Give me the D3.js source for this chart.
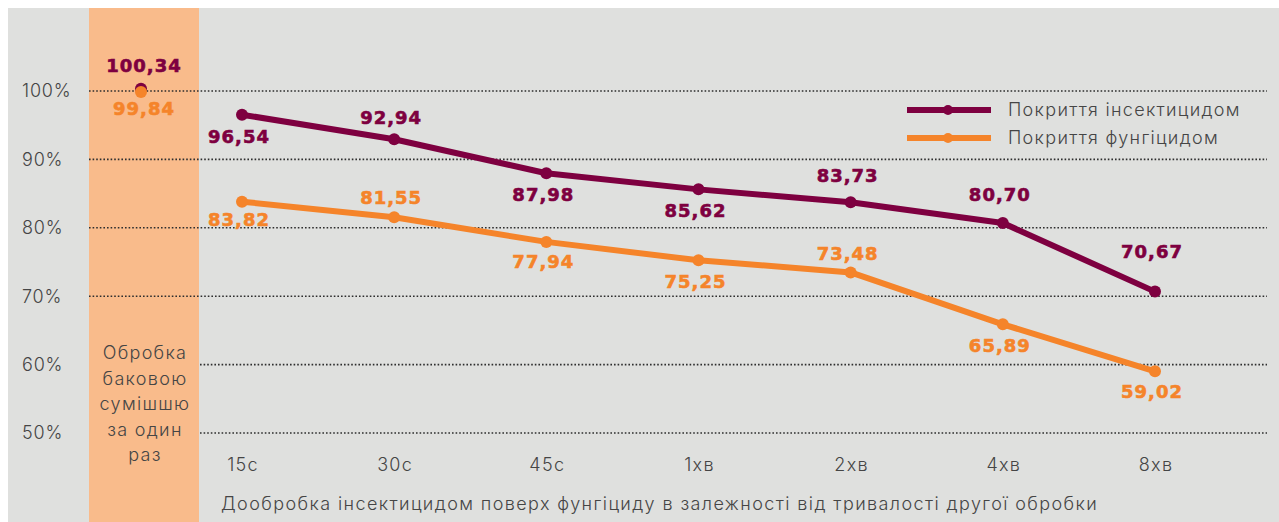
<!DOCTYPE html>
<html>
<head>
<meta charset="utf-8">
<script src="https://cdn.jsdelivr.net/npm/d3@7"></script>
<style>
  html, body { margin: 0; padding: 0; background: #ffffff; }
  svg { display: block; }
</style>
</head>
<body>
<svg id="chart" width="1279" height="522"></svg>
<script>
// Time of the second treatment
const categories = ["15с", "30с", "45с", "1хв", "2хв", "4хв", "8хв"];
// Coverage, %
const insecticide = [96.54, 92.94, 87.98, 85.62, 83.73, 80.70, 70.67];
const fungicide   = [83.82, 81.55, 77.94, 75.25, 73.48, 65.89, 59.02];
// Single pass with the tank mix
const tankMixInsecticide = 100.34;
const tankMixFungicide = 99.84;
const yTicks = [50, 60, 70, 80, 90, 100];
const seriesNames = ["Покриття інсектицидом", "Покриття фунгіцидом"];
const bandText = ["Обробка", "баковою", "сумішшю", "за один", "раз"];
const axisTitle = "Дообробка інсектицидом поверх фунгіциду в залежності від тривалості другої обробки";

const W = 1279, H = 522;
const PURPLE = "#7e0040", ORANGE = "#f5842a";
const BG = "#dfe0de", BAND = "#f9bb8b";
const TEXT = "#454545";
const FONT = "Inter, 'Open Sans', sans-serif";
const BOLD_FONT = "'DejaVu Sans', Inter, sans-serif";

const svg = d3.select("#chart");

// Light text helper
function light(sel, size) {
  return sel.attr("font-family", FONT).attr("font-weight", 300)
    .attr("font-size", size || 18).attr("letter-spacing", 1.3).attr("fill", TEXT);
}

// Panel background
svg.append("rect").attr("x", 8).attr("y", 8).attr("width", W - 8).attr("height", H - 8).attr("fill", BG);

// Tank-mix column
const band = { x0: 89, x1: 199 };
svg.append("rect").attr("x", band.x0).attr("y", 8).attr("width", band.x1 - band.x0).attr("height", H - 8).attr("fill", BAND);

const y = d3.scaleLinear().domain([50, 100]).range([433, 91]);
const x = d3.scalePoint().domain(categories).range([242, 1155]);
const bandX = 141;

// Dotted grid
const grid = svg.append("g");
yTicks.forEach(t => {
  grid.append("line")
    .attr("x1", t >= 70 ? band.x0 : band.x1 + 1).attr("x2", 1267)
    .attr("y1", y(t)).attr("y2", y(t))
    .attr("stroke", "#2e2e2e").attr("stroke-width", 1.6)
    .attr("stroke-dasharray", "1.6 2");
});

// Y tick labels
light(svg.append("g").selectAll("text").data(yTicks).join("text"))
  .attr("x", 22).attr("y", d => y(d)).attr("dy", "0.35em")
  .attr("letter-spacing", 0.8)
  .text(d => d + "%");

// Category labels
light(svg.append("g").selectAll("text").data(categories).join("text"))
  .attr("x", d => x(d) + 1).attr("y", 465).attr("dy", "0.35em")
  .attr("text-anchor", "middle")
  .text(d => d);

// Axis title
light(svg.append("text"))
  .attr("x", 221).attr("y", 504).attr("dy", "0.35em")
  .attr("letter-spacing", 1.4)
  .text(axisTitle);

// Column caption
light(svg.append("g").selectAll("text").data(bandText).join("text"))
  .attr("x", 145).attr("y", (d, i) => 353 + i * 25.5).attr("dy", "0.35em")
  .attr("text-anchor", "middle")
  .text(d => d);

const fmt = v => v.toFixed(2).replace(".", ",");

function valueLabel(sel, color) {
  return sel.attr("text-anchor", "middle")
    .attr("font-family", BOLD_FONT).attr("font-weight", 700).attr("font-size", 18)
    .attr("letter-spacing", 1)
    .attr("fill", color).attr("stroke", color).attr("stroke-width", 0.6);
}

// Label offsets from each point (negative = above)
const insecticideDy = [22, -22, 21, 21, -27, -28, -40];
const fungicideDy = [18, -19, 20, 21, -19, 21, 20];

function drawSeries(values, color, dys) {
  const pts = categories.map((c, i) => [x(c), y(values[i])]);
  svg.append("path")
    .attr("d", d3.line()(pts))
    .attr("fill", "none").attr("stroke", color).attr("stroke-width", 6)
    .attr("stroke-linejoin", "round");
  svg.append("g").selectAll("circle").data(pts).join("circle")
    .attr("cx", d => d[0]).attr("cy", d => d[1]).attr("r", 6).attr("fill", color);
  valueLabel(svg.append("g").selectAll("text").data(values).join("text"), color)
    .attr("x", (d, i) => x(categories[i]) - 3)
    .attr("y", (d, i) => y(d) + dys[i]).attr("dy", "0.35em")
    .text(d => fmt(d));
}
drawSeries(fungicide, ORANGE, fungicideDy);
drawSeries(insecticide, PURPLE, insecticideDy);

// Tank-mix points
svg.append("circle").attr("cx", bandX).attr("cy", y(tankMixInsecticide)).attr("r", 6).attr("fill", PURPLE);
svg.append("circle").attr("cx", bandX).attr("cy", y(tankMixFungicide)).attr("r", 6).attr("fill", ORANGE);
[[tankMixInsecticide, PURPLE, -23], [tankMixFungicide, ORANGE, 17]].forEach(([v, c, dy]) => {
  valueLabel(svg.append("text"), c)
    .attr("x", 144).attr("y", y(v) + dy).attr("dy", "0.35em")
    .text(fmt(v));
});

// Legend
const legend = svg.append("g");
[[PURPLE, 110], [ORANGE, 138]].forEach(([c, ly], i) => {
  legend.append("line").attr("x1", 907).attr("x2", 991).attr("y1", ly).attr("y2", ly)
    .attr("stroke", c).attr("stroke-width", 6);
  legend.append("circle").attr("cx", 948).attr("cy", ly).attr("r", 5).attr("fill", c);
  light(legend.append("text"))
    .attr("x", 1008).attr("y", ly).attr("dy", "0.35em")
    .text(seriesNames[i]);
});
</script>
</body>
</html>
